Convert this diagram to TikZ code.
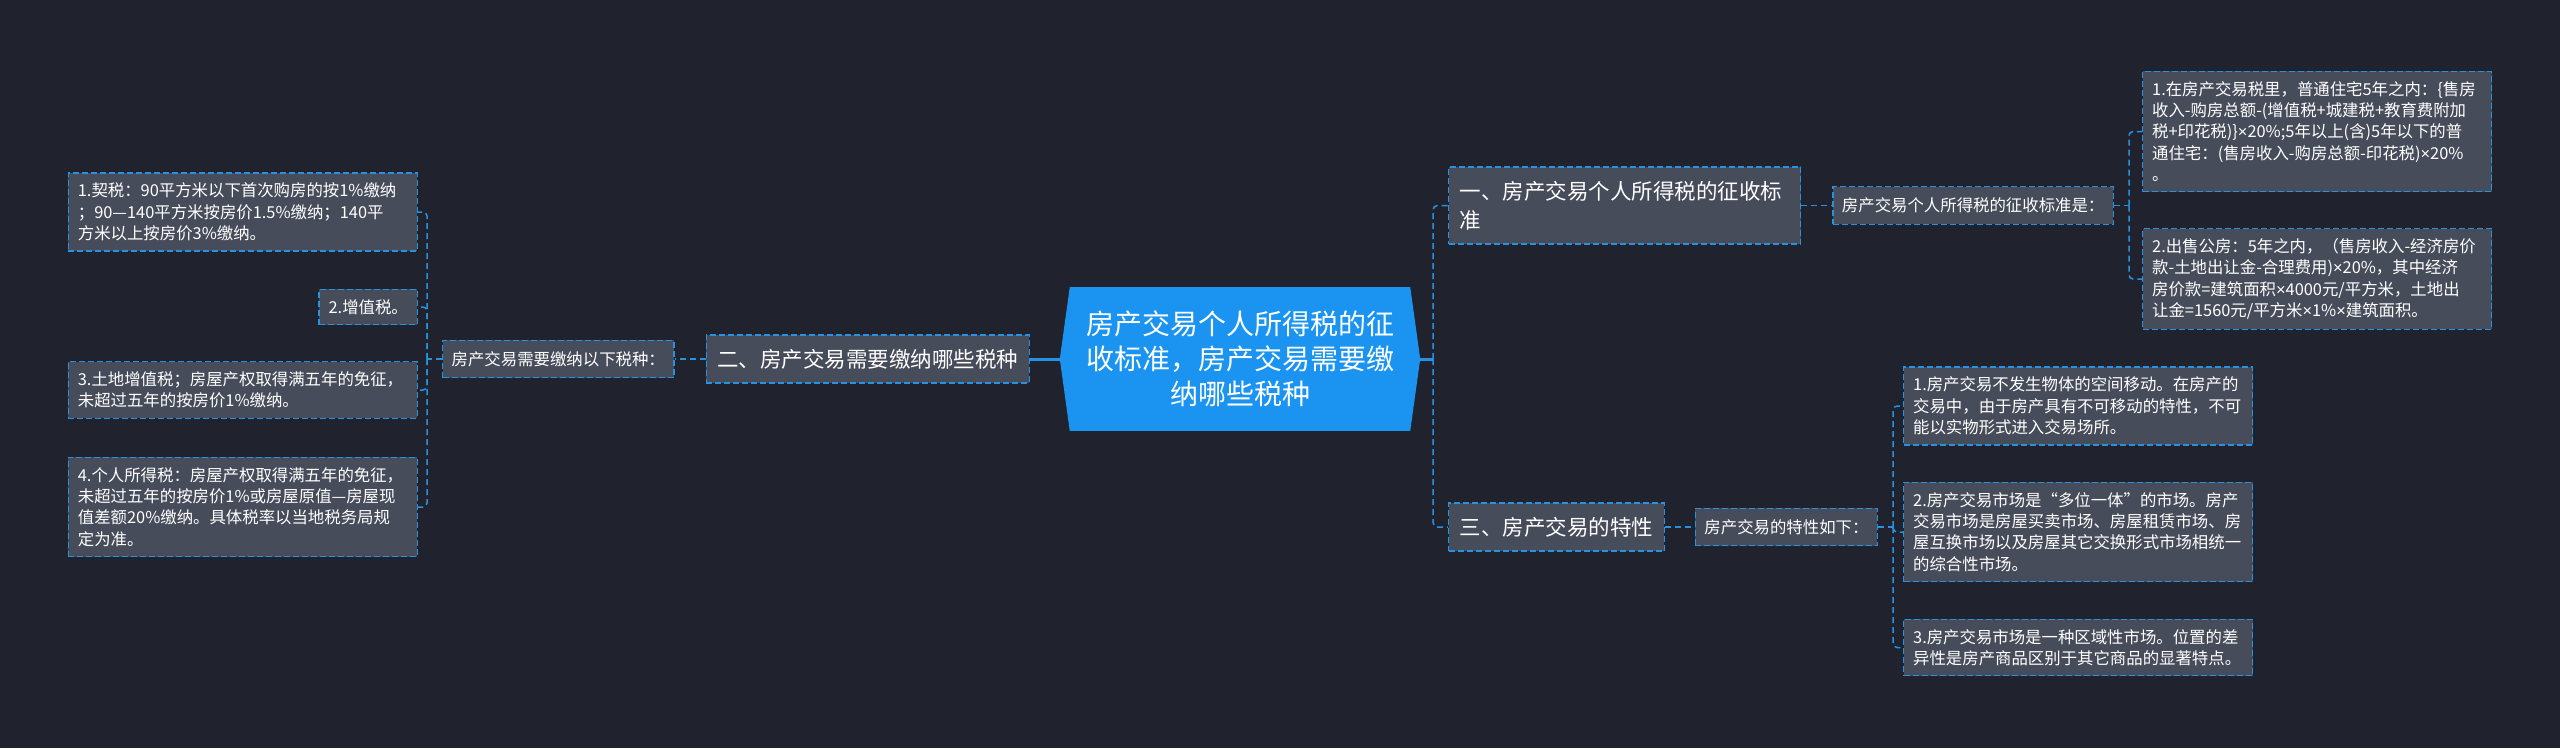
\documentclass[tikz,border=0pt]{standalone}
\usepackage{fontspec}
\setmainfont{Noto Sans CJK SC}
\newfontfamily\symfont{Liberation Sans}
\newcommand{\mulx}{{\symfont ×}}
\usepackage{tikz}
\usetikzlibrary{positioning}

\definecolor{bgnavy}{RGB}{32,35,46}
\definecolor{cardgray}{RGB}{71,76,91}
\definecolor{linkblue}{RGB}{38,146,226}
\definecolor{rootblue}{RGB}{26,148,240}

\begin{document}
\begin{tikzpicture}[
  x=1pt, y=-1pt,
  node distance=30pt,
  root/.style={fill=rootblue, text=white, align=center,
               minimum width=340pt, minimum height=144pt, inner sep=0pt,
               font=\fontsize{28}{35}\selectfont},
  topic/.style={draw=linkblue, dash pattern=on 6pt off 3pt, line width=1.3pt,
                fill=cardgray, text=white, align=left,
                inner xsep=11pt, inner ysep=14pt,
                font=\fontsize{21.5}{29}\selectfont},
  sublabel/.style={topic, inner xsep=9pt, inner ysep=11pt,
                   font=\fontsize{16.4}{21.3}\selectfont},
  leaf/.style={sublabel, inner xsep=9.5pt, inner ysep=10pt},
  leafwide/.style={leaf, text width=330pt},
  trunk/.style={draw=linkblue, line width=3pt},
  twig/.style={draw=linkblue, line width=1.5pt, dash pattern=on 6pt off 4pt,
               rounded corners=4pt},
]

%% ── Fond ────────────────────────────────────────────────────────────────
\fill[bgnavy] (0,0) rectangle (2560,748);
\useasboundingbox (0,0) rectangle (2560,748);

%% ── Centre ──────────────────────────────────────────────────────────────
\node[root] (root) at (1240,359)
  {房产交易个人所得税的征\\收标准，房产交易需要缴\\纳哪些税种};
\coordinate (ltip) at ([xshift=-10pt]root.west);
\coordinate (rtip) at ([xshift=10pt]root.east);
\fill[rootblue] (root.north west) -- (ltip) -- (root.south west) -- cycle;
\fill[rootblue] (root.north east) -- (rtip) -- (root.south east) -- cycle;

%% ── Branche gauche : taxes ──────────────────────────────────────────────
\node[topic, left=40pt of root] (tax) {二、房产交易需要缴纳哪些税种};
\node[sublabel, left=31pt of tax] (taxlist) {房产交易需要缴纳以下税种：};

\node[leafwide, anchor=east] (deed) at (418,212)
  {1.契税：90平方米以下首次购房的按1\%缴纳\\
   ；90—140平方米按房价1.5\%缴纳；140平\\
   方米以上按房价3\%缴纳。};
\node[leaf, anchor=east] (vat) at (418,307) {2.增值税。};
\node[leafwide, anchor=east] (land) at (418,390)
  {3.土地增值税；房屋产权取得满五年的免征，\\
   未超过五年的按房价1\%缴纳。};
\node[leafwide, anchor=east] (income) at (418,507)
  {4.个人所得税：房屋产权取得满五年的免征，\\
   未超过五年的按房价1\%或房屋原值—房屋现\\
   值差额20\%缴纳。具体税率以当地税务局规\\
   定为准。};

%% ── Branche droite haut : standard ──────────────────────────────────────
\node[topic, text width=330pt, anchor=west] (std) at (1448,205.5)
  {一、房产交易个人所得税的征收标\\准};
\node[sublabel, right=31pt of std] (stdlist) {房产交易个人所得税的征收标准是：};

\node[leafwide, anchor=west] (private) at (2142,131.5)
  {1.在房产交易税里，普通住宅5年之内：\{售房\\
   收入-购房总额-(增值税+城建税+教育费附加\\
   税+印花税)\}\mulx{}20\%;5年以上(含)5年以下的普\\
   通住宅：(售房收入-购房总额-印花税)\mulx{}20\%\\
   。};
\node[leafwide, anchor=west] (public) at (2142,279)
  {2.出售公房：5年之内，（售房收入-经济房价\\
   款-土地出让金-合理费用)\mulx{}20\%，其中经济\\
   房价款=建筑面积\mulx{}4000元/平方米，土地出\\
   让金=1560元/平方米\mulx{}1\%\mulx{}建筑面积。};

%% ── Branche droite bas : caractères ─────────────────────────────────────
\node[topic, anchor=west] (feat) at (1448,527) {三、房产交易的特性};
\node[sublabel, right=30pt of feat] (featlist) {房产交易的特性如下：};

\node[leafwide, anchor=west] (fixed) at (1903,406)
  {1.房产交易不发生物体的空间移动。在房产的\\
   交易中，由于房产具有不可移动的特性，不可\\
   能以实物形式进入交易场所。};
\node[leafwide, anchor=west] (multi) at (1903,532)
  {2.房产交易市场是“多位一体”的市场。房产\\
   交易市场是房屋买卖市场、房屋租赁市场、房\\
   屋互换市场以及房屋其它交换形式市场相统一\\
   的综合性市场。};
\node[leafwide, anchor=west] (local) at (1903,647.5)
  {3.房产交易市场是一种区域性市场。位置的差\\
   异性是房产商品区别于其它商品的显著特点。};

%% ── Liens ───────────────────────────────────────────────────────────────
\draw[trunk] (ltip) -- (tax.east);
\draw[twig] (tax.west) -- (taxlist.east);
\draw[twig] (taxlist.west) -- ++(-15,0) coordinate (taxfork);
\foreach \n in {deed,vat,land,income}
  \draw[twig] (taxfork) |- (\n.east);

\draw[trunk] (rtip) -- ++(13,0) coordinate (rootfork);
\foreach \n in {std,feat}
  \draw[twig] (rootfork) |- (\n.west);

\draw[twig] (std.east) -- (stdlist.west);
\draw[twig] (stdlist.east) -- ++(15,0) coordinate (stdfork);
\foreach \n in {private,public}
  \draw[twig] (stdfork) |- (\n.west);

\draw[twig] (feat.east) -- (featlist.west);
\draw[twig] (featlist.east) -- ++(15,0) coordinate (featfork);
\foreach \n in {fixed,multi,local}
  \draw[twig] (featfork) |- (\n.west);

\end{tikzpicture}
\end{document}
